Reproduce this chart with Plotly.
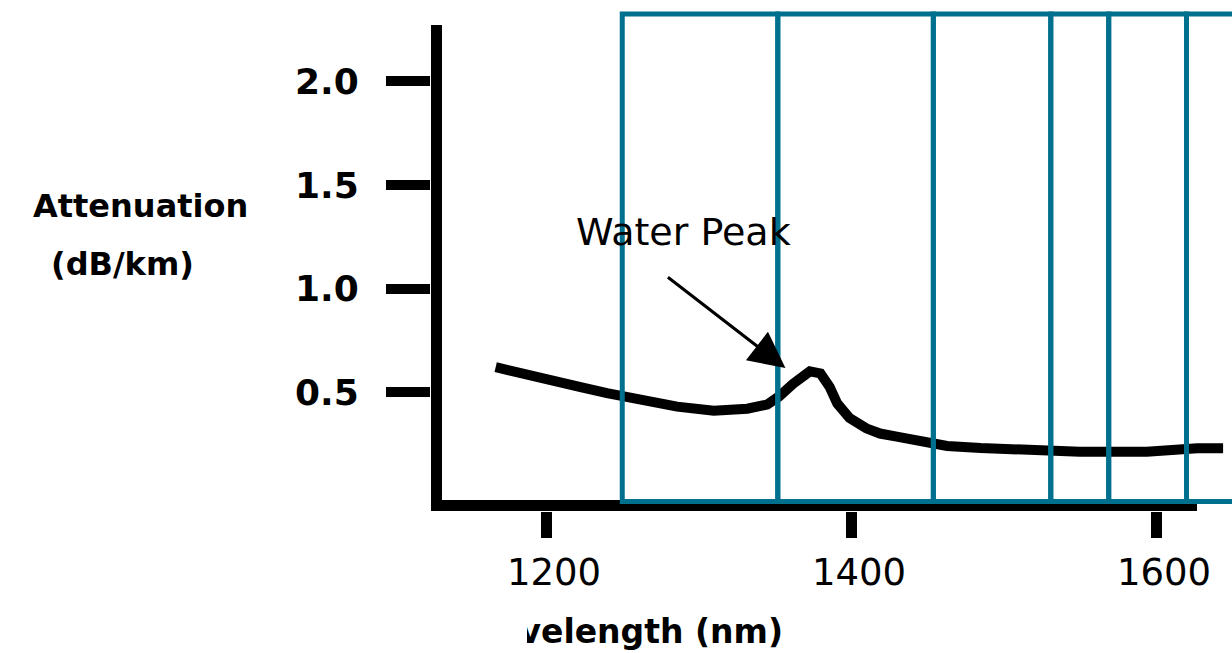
import plotly.graph_objects as go

# ---------------- data ----------------
wavelength = [1167, 1180, 1190, 1205, 1222, 1240, 1251, 1266, 1286, 1310, 1332, 1345,
              1353, 1362, 1373, 1380, 1386, 1391, 1399, 1410, 1419, 1430, 1445, 1463,
              1485, 1506, 1517, 1550, 1594, 1605, 1609, 1627, 1644]
attenuation = [0.62, 0.60, 0.58, 0.555, 0.525, 0.495, 0.48, 0.455, 0.43, 0.41, 0.42, 0.44,
               0.48, 0.54, 0.60, 0.59, 0.525, 0.445, 0.375, 0.325, 0.30, 0.285, 0.26, 0.24,
               0.23, 0.225, 0.212, 0.212, 0.212, 0.217, 0.229, 0.229, 0.229]
band_edges = [1250, 1352, 1454, 1531, 1569, 1620, 1675]
x_tick_vals = [1200, 1400, 1600]
x_tick_text = ["1200", "1400", "1600"]
y_tick_vals = [0.5, 1.0, 1.5, 2.0]
y_tick_text = ["0.5", "1.0", "1.5", "2.0"]
peak_label = "Water Peak"
peak_point = (1357, 0.616)
y_title = ["Attenuation", "(dB/km)"]
x_title = "Wavelength (nm)"

# ---------------- layout constants (screen pixels) ----------------
OFF = 0                      # page body margin removed below
W, H = 1232, 653
BLUE = "#00708f"
FONT = "DejaVu Sans"

PX_1200, PX_PER_NM = 546.0, 1.525
PY_ZERO, PY_PER_UNIT = 495.7, 207.2


def lam(px):
    return 1200 + (px - PX_1200) / PX_PER_NM


def val(py):
    return (PY_ZERO - py) / PY_PER_UNIT


def fx(px):
    return (px - OFF) / W


def fy(py):
    return 1 - (py - OFF) / H


PLOT_L, PLOT_R, PLOT_T, PLOT_B = 431, OFF + W, OFF, 511
X_RANGE = [lam(PLOT_L), lam(PLOT_R)]
Y_RANGE = [val(PLOT_B), val(PLOT_T)]

fig = go.Figure()

# attenuation curve
fig.add_trace(go.Scatter(x=wavelength, y=attenuation, mode="lines",
                         line=dict(color="black", width=10),
                         hoverinfo="skip", showlegend=False))

# x-axis title, its left part hidden as in the reference
CLIP_L = 527
Y2_TOP = 0.12
fig.add_trace(go.Scatter(x=[(783 - CLIP_L) / (PLOT_R - CLIP_L)],
                         y=[(OFF + H - 635) / (Y2_TOP * H)],
                         mode="text", text=[x_title], textposition="middle left",
                         textfont=dict(family=FONT, size=33, color="black", weight="bold"),
                         xaxis="x2", yaxis="y2", hoverinfo="skip", showlegend=False,
                         cliponaxis=True))

shapes = []
# axis lines
shapes.append(dict(type="line", xref="x", yref="y", x0=lam(436.5), x1=lam(436.5),
                   y0=val(PLOT_B), y1=val(25), line=dict(color="black", width=11),
                   layer="below"))
shapes.append(dict(type="line", xref="x", yref="y", x0=lam(420), x1=lam(1197),
                   y0=val(505.5), y1=val(505.5), line=dict(color="black", width=11),
                   layer="below"))
# band rectangles
for i in range(len(band_edges) - 1):
    shapes.append(dict(type="rect", xref="x", yref="y",
                       x0=band_edges[i], x1=band_edges[i + 1], y0=val(501.5), y1=val(14),
                       line=dict(color=BLUE, width=5), fillcolor="rgba(0,0,0,0)",
                       layer="above"))

annotations = [
    dict(text=y_title[0], x=fx(140), y=fy(206), xref="paper", yref="paper",
         xanchor="center", yanchor="middle", showarrow=False,
         font=dict(family=FONT, size=32, color="black", weight="bold")),
    dict(text=y_title[1], x=fx(122), y=fy(264), xref="paper", yref="paper",
         xanchor="center", yanchor="middle", showarrow=False,
         font=dict(family=FONT, size=32, color="black", weight="bold")),
    dict(text=peak_label, x=fx(683), y=fy(232), xref="paper", yref="paper",
         xanchor="center", yanchor="middle", showarrow=False,
         font=dict(family=FONT, size=38, color="black")),
    dict(text="", x=peak_point[0], y=peak_point[1], xref="x", yref="y",
         showarrow=True, ax=-119, ay=-92, arrowhead=2, arrowsize=2.4,
         arrowwidth=3, arrowcolor="black", standoff=0),
]

fig.update_layout(
    template="none",
    width=W, height=H,
    margin=dict(l=0, r=0, t=0, b=0),
    paper_bgcolor="white", plot_bgcolor="white",
    hovermode=False,
    showlegend=False,
    shapes=shapes,
    annotations=annotations,
    xaxis=dict(domain=[fx(PLOT_L), 1], range=X_RANGE, showgrid=False, zeroline=False,
               showline=False, ticks="outside", ticklen=26, tickwidth=11,
               tickcolor="black", tickvals=x_tick_vals, ticktext=x_tick_text,
               tickfont=dict(family=FONT, size=37, color="black"),
               ticklabelstandoff=3, ticklabelshift=8, automargin=False,
               fixedrange=True),
    yaxis=dict(domain=[fy(PLOT_B), fy(PLOT_T)], range=Y_RANGE, showgrid=False,
               zeroline=False, showline=False, ticks="outside", ticklen=44, tickwidth=10,
               tickcolor="black", tickvals=y_tick_vals, ticktext=y_tick_text,
               tickfont=dict(family=FONT, size=36, color="black", weight="bold"),
               ticklabelstandoff=20, automargin=False, fixedrange=True),
    xaxis2=dict(domain=[fx(CLIP_L), 1], range=[0, 1], visible=False, anchor="y2",
                fixedrange=True),
    yaxis2=dict(domain=[0, Y2_TOP], range=[0, 1], visible=False, anchor="x2",
                fixedrange=True),
)

fig.write_html("out.html", config={"displayModeBar": False},
               post_script="document.body.style.margin='0';"
                           "document.documentElement.style.overflow='hidden';"
                           "document.body.style.overflow='hidden';")
